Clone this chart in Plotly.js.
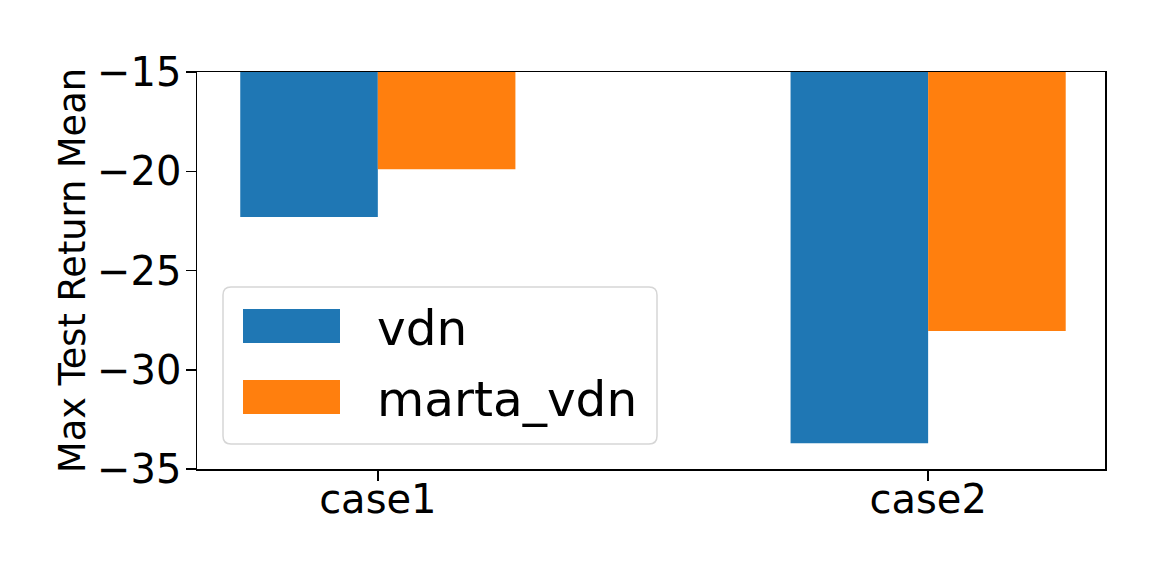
<!DOCTYPE html>
<html>
<head>
<meta charset="utf-8">
<script src="https://cdn.plot.ly/plotly-3.0.1.min.js"></script>
<style>html,body{margin:0;padding:0;background:#fff;}#chart{width:1163px;height:581px;}</style>
</head>
<body>
<div id="chart"></div>
<script>
const categories = ['case1', 'case2'];
const seriesNames = ['vdn', 'marta_vdn'];
const vdnValues = [-22.3, -33.7];
const martaVdnValues = [-19.9, -28.05];
const yTickValues = [-35, -30, -25, -20, -15];
const colors = ['#1f77b4', '#ff7f0e'];

// plot area in pixels
const L = 197, R = 1105, T = 72, B = 469;
const W = 1163, H = 581;
const PW = R - L, PH = B - T;
const px = x => (x - L) / PW;
const py = y => (B - y) / PH;

const font = 'DejaVu Sans, Liberation Sans, sans-serif';

const traces = [
  {type: 'bar', name: seriesNames[0], x: categories, y: vdnValues, marker: {color: colors[0], line: {width: 0}}, showlegend: false, hoverinfo: 'x+y'},
  {type: 'bar', name: seriesNames[1], x: categories, y: martaVdnValues, marker: {color: colors[1], line: {width: 0}}, showlegend: false, hoverinfo: 'x+y'}
];

// custom matplotlib-like legend
const bx0 = px(223), bx1 = px(657), by0 = py(444), by1 = py(287);
const rx = 8 / PW, ry = 8 / PH;
const boxPath = `M ${bx0+rx},${by0} L ${bx1-rx},${by0} Q ${bx1},${by0} ${bx1},${by0+ry} L ${bx1},${by1-ry} Q ${bx1},${by1} ${bx1-rx},${by1} L ${bx0+rx},${by1} Q ${bx0},${by1} ${bx0},${by1-ry} L ${bx0},${by0+ry} Q ${bx0},${by0} ${bx0+rx},${by0} Z`;
const patchTops = [309, 380];
const patchH = 34;
const shapes = [
  {type: 'path', xref: 'paper', yref: 'paper', path: boxPath, fillcolor: 'rgba(255,255,255,0.8)', line: {color: '#d6d6d6', width: 1.5}, layer: 'above'}
];
const annotations = [];
seriesNames.forEach((n, i) => {
  shapes.push({type: 'rect', xref: 'paper', yref: 'paper', x0: px(243), x1: px(340), y0: py(patchTops[i] + patchH), y1: py(patchTops[i]), fillcolor: colors[i], line: {width: 0}, layer: 'above'});
  annotations.push({xref: 'paper', yref: 'paper', x: px(375), y: py(patchTops[i] + patchH / 2 + 2), xanchor: 'left', yanchor: 'middle', text: n, showarrow: false, font: {family: font, size: 48.5, color: '#000'}});
});

const layout = {
  width: W, height: H,
  margin: {l: L, r: W - R, t: T, b: H - B, pad: 0},
  paper_bgcolor: '#fff', plot_bgcolor: '#fff',
  barmode: 'group', bargap: 0.5, bargroupgap: 0,
  font: {family: font, color: '#000'},
  xaxis: {
    type: 'category', range: [-0.3286, 1.3214], showgrid: false, zeroline: false,
    showline: true, linecolor: '#000', linewidth: 1.5, mirror: true,
    ticks: 'outside', ticklen: 10, tickwidth: 1.5, tickcolor: '#000',
    ticklabelstandoff: -16,
    tickfont: {family: font, size: 40, color: '#000'}
  },
  yaxis: {
    range: [-35, -15], tickvals: yTickValues, showgrid: false, zeroline: false,
    showline: true, linecolor: '#000', linewidth: 1.5, mirror: true,
    ticks: 'outside', ticklen: 10, tickwidth: 1.5, tickcolor: '#000',
    ticklabelstandoff: -4,
    tickfont: {family: font, size: 40, color: '#000'},
    title: {text: 'Max Test Return Mean', font: {family: font, size: 36.7, color: '#000'}, standoff: 0}
  },
  shapes: shapes,
  annotations: annotations
};

Plotly.newPlot('chart', traces, layout, {displayModeBar: false, staticPlot: true});
</script>
</body>
</html>
